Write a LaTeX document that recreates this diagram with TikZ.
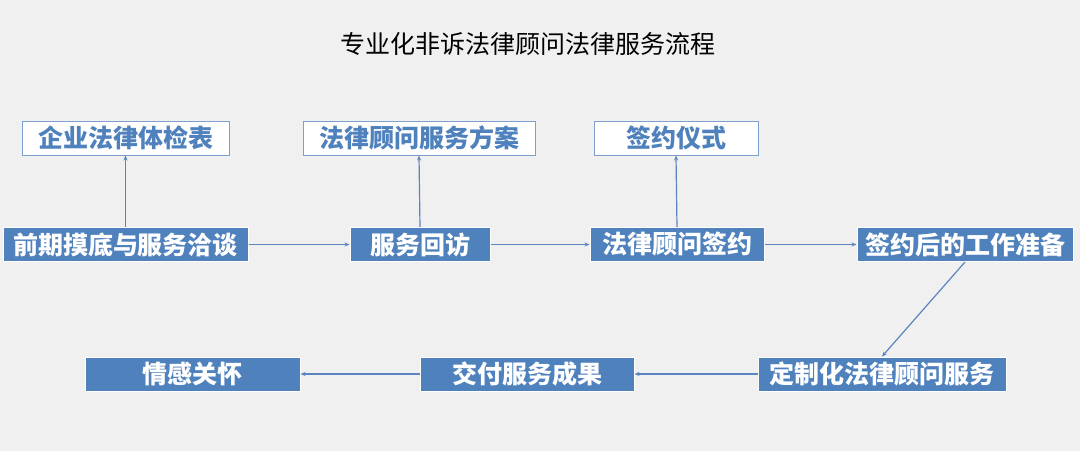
\documentclass[tikz,border=0pt]{standalone}
\usepackage{fontspec}
\newfontfamily\cjk{Noto Sans CJK SC}
\usetikzlibrary{arrows.meta}
\definecolor{stepblue}{HTML}{4F81BD}
\definecolor{edgeblue}{HTML}{7F9FCF}
\definecolor{linkblue}{HTML}{5B84C0}
\definecolor{paper}{HTML}{F0F0F0}
\tikzset{%
  tipA/.tip={Stealth[length=5pt,width=4pt]},
  bluebox/.style={fill=stepblue, draw=white, line width=1pt, minimum height=34pt,
    inner sep=0pt, text=white, font=\cjk\bfseries\fontsize{25}{25}\selectfont},
  whitebox/.style={fill=white, draw=edgeblue, line width=1pt, minimum height=34pt,
    inner sep=0pt, text=stepblue, font=\cjk\bfseries\fontsize{25}{25}\selectfont},
  link/.style={draw=linkblue, line width=1.2pt, -tipA}
}

\begin{document}
\begin{tikzpicture}[x=1pt,y=-1pt]
    \fill[paper] (0,0) rectangle (1080,451);
    \useasboundingbox (0,0) rectangle (1080,451);
    \node[font=\cjk\fontsize{25}{25}\selectfont] (title) at (528,44) {专业化非诉法律顾问法律服务流程};
    % top row
    \node[whitebox, minimum width=207pt] (check) at (125.5,138) {企业法律体检表};
    \node[whitebox, minimum width=232pt] (plan) at (419,138) {法律顾问服务方案};
    \node[whitebox, minimum width=164pt] (rite) at (676,138) {签约仪式};
    % middle row
    \node[bluebox, minimum width=245pt] (talk) at (125.5,244.5) {前期摸底与服务洽谈};
    \node[bluebox, minimum width=140pt] (visit) at (420,244.5) {服务回访};
    \node[bluebox, minimum width=174pt] (sign) at (677,244.5) {法律顾问签约};
    \node[bluebox, minimum width=216pt] (prep) at (965,244.5) {签约后的工作准备};
    % bottom row
    \node[bluebox, minimum width=215pt] (care) at (192.5,374) {情感关怀};
    \node[bluebox, minimum width=214pt] (deliver) at (527,374) {交付服务成果};
    \node[bluebox, minimum width=248pt] (custom) at (882,374) {定制化法律顾问服务};
    % connectors
    \draw[link] (talk.north) -- (check.south);
    \draw[link] (visit.north) -- (plan.south);
    \draw[link] (sign.north) -- (rite.south);
    \draw[link] (talk) -- (visit);
    \draw[link] (visit) -- (sign);
    \draw[link] (sign) -- (prep);
    \draw[link] (prep.south) -- (custom.north);
    \draw[link] (custom) -- (deliver);
    \draw[link] (deliver) -- (care);
\end{tikzpicture}
\end{document}
